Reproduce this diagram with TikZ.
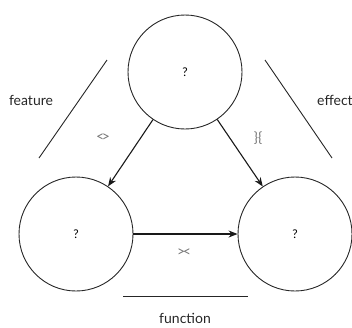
\documentclass[tikz,border=0pt]{standalone}
\usepackage{fontspec}
\setmainfont{Lato}
\usetikzlibrary{arrows.meta}
\begin{document}
\begin{tikzpicture}[x=1pt,y=-1pt,
  state/.style={circle,draw=black!85,line width=0.9pt,minimum size=114pt,inner sep=0pt,font=\fontsize{12}{14}\selectfont},
  arr/.style={-{Stealth[length=9pt,width=7pt]},line width=1.1pt,black!90},
  sym/.style={font=\fontsize{14}{16}\selectfont,text=black!55},
  lbl/.style={font=\fontsize{14}{15}\selectfont,text=black!85},
  bar/.style={line width=0.9pt,black!85}]
\useasboundingbox (0,0) rectangle (352,327);
\node[state] (top) at (185,72) {?};
\node[state] (left) at (76,234) {?};
\node[state] (right) at (295,234) {?};
\draw[arr] (top) -- (left);
\draw[arr] (top) -- (right);
\draw[arr] (left) -- (right);
\node[sym] (s1) at (103,138) {<\kern-2.5pt>};
\node[sym] (s2) at (258,138) {\}\{};
\node[sym] (s3) at (184,253) {>\kern-2.5pt<};
\coordinate (f1) at (107,60);
\coordinate (f2) at (39,158);
\coordinate (e1) at (265,60);
\coordinate (e2) at (332,158);
\coordinate (g1) at (123,296);
\coordinate (g2) at (248,296);
\draw[bar] (f1) -- (f2);
\draw[bar] (e1) -- (e2);
\draw[bar] (g1) -- (g2);
\node[lbl] (feat) at (31,100) {feature};
\node[lbl,anchor=west,inner sep=0pt] (eff) at (317,100) {effect};
\node[lbl] (fun) at (185,318) {function};
\end{tikzpicture}
\end{document}
